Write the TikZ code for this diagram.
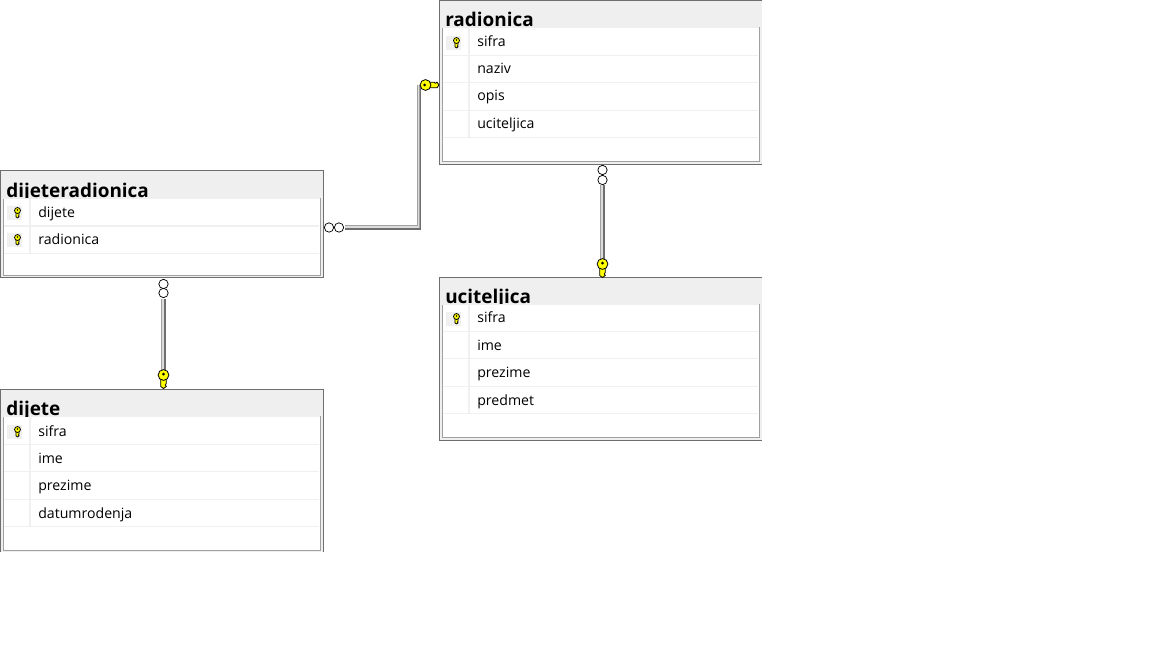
\documentclass[tikz,border=0pt]{standalone}
\usepackage{fontspec}
\setmainfont{Open Sans}
\definecolor{headgrey}{HTML}{EFEFEF}
\definecolor{outergrey}{HTML}{6E6E6E}
\definecolor{innergrey}{HTML}{A0A0A0}
\definecolor{rowgrey}{HTML}{F0F0F0}
\definecolor{relgrey}{HTML}{DCDCDC}
\definecolor{keyyellow}{HTML}{FFFF00}
\tikzset{
  headbox/.style={fill=headgrey, draw=none},
  outerline/.style={draw=outergrey, line width=0.8pt},
  innerline/.style={draw=innergrey, line width=0.8pt},
  rowline/.style={draw=rowgrey, line width=0.8pt},
  keybox/.style={fill=rowgrey, draw=none},
  titletext/.style={anchor=base west, inner sep=0pt, font=\fontsize{14.2}{16}\selectfont\bfseries},
  fieldtext/.style={anchor=base west, inner sep=0pt, font=\fontsize{10.6}{12}\selectfont},
  relline/.style={draw=innergrey, line width=0.8pt, double=relgrey, double distance=1.4pt},
  relshade/.style={draw=outergrey, line width=0.9pt},
  crowring/.style={circle, draw=black, fill=white, line width=0.55pt, inner sep=0pt, minimum size=7pt},
  keyhead/.pic={
    \draw[fill=keyyellow, draw=black, line width=0.6pt]
      (-2.8,4) -- (-2.8,11.5) -- (0,13.5) -- (2.8,11.5) -- (1.8,10) -- (2.8,8.5) -- (2.8,4) -- cycle;
    \draw[fill=keyyellow, draw=black, line width=0.6pt] (0,0) circle (5.4);
    \fill[black] (0,-0.8) circle (1.5);
  }
}
\begin{document}
\begin{tikzpicture}[
  % One unit is one pixel of the screen capture, y runs downward
  x=0.75pt,
  y=-0.75pt
]
\useasboundingbox (0,0) rectangle (1152,648);

% 1) Table dijeteradionica
\fill[headbox] (0,171) rectangle (323,278);
\fill[white] (4,199) rectangle (320,275);
\draw[innerline] (3.5,199) -- (3.5,275.5) -- (320.5,275.5) -- (320.5,198);
\draw[outerline] (0.5,170.5) rectangle (323.5,277.5);
\begin{scope}
  \clip (0,171) rectangle (323,198);
  \node[titletext] (titleDR) at (6,197.5) {dijeteradionica};
\end{scope}
\draw[rowline] (4,226) -- (319,226) (4,253.5) -- (319,253.5);
\draw[rowline] (30,199) -- (30,253);
\fill[keybox] (7,206) rectangle (22,220) (7,233) rectangle (22,247);
\pic[scale=0.55] at (17.5,210.5) {keyhead};
\pic[scale=0.55] at (17.5,237.5) {keyhead};
\node[fieldtext] (drDijete) at (38,217.5) {dijete};
\node[fieldtext] (drRadionica) at (38,244.5) {radionica};

% 2) Table dijete, cut off at the bottom of the capture
\fill[headbox] (0,390) rectangle (323,552);
\fill[white] (4,417) rectangle (320,550);
\draw[innerline] (3.5,417) -- (3.5,550.5) -- (320.5,550.5) -- (320.5,416);
\draw[outerline] (0.5,552) -- (0.5,389.5) -- (323.5,389.5) -- (323.5,552);
\begin{scope}
  \clip (0,390) rectangle (323,416);
  \node[titletext] (titleD) at (6,415.5) {dijete};
\end{scope}
\draw[rowline] (4,444.5) -- (319,444.5) (4,471.5) -- (319,471.5)
               (4,499.5) -- (319,499.5) (4,526.5) -- (319,526.5);
\draw[rowline] (30,417) -- (30,526);
\fill[keybox] (7,425) rectangle (22,439);
\pic[scale=0.55] at (17.5,429.5) {keyhead};
\node[fieldtext] (dSifra) at (38,436) {sifra};
\node[fieldtext] (dIme) at (38,463) {ime};
\node[fieldtext] (dPrezime) at (38,490) {prezime};
\node[fieldtext] (dDatum) at (38,518) {datumrodenja};

% 3) Table radionica, cut off at the right of the capture
\fill[headbox] (440,1) rectangle (762,164);
\fill[white] (443,28) rectangle (759,161);
\draw[innerline] (442.5,28) -- (442.5,161.5) -- (759.5,161.5) -- (759.5,27);
\draw[outerline] (762,0.5) -- (439.5,0.5) -- (439.5,164.5) -- (762,164.5);
\begin{scope}
  \clip (440,1) rectangle (762,27);
  \node[titletext] (titleR) at (445,26.5) {radionica};
\end{scope}
\draw[rowline] (443,55.5) -- (758,55.5) (443,82.5) -- (758,82.5)
               (443,110.5) -- (758,110.5) (443,137.5) -- (758,137.5);
\draw[rowline] (469,28) -- (469,137);
\fill[keybox] (446,36) rectangle (461,50);
\pic[scale=0.55] at (456.5,40.5) {keyhead};
\node[fieldtext] (rSifra) at (477,47) {sifra};
\node[fieldtext] (rNaziv) at (477,74) {naziv};
\node[fieldtext] (rOpis) at (477,101) {opis};
\node[fieldtext] (rUciteljica) at (477,129) {uciteljica};

% 4) Table uciteljica, cut off at the right of the capture
\fill[headbox] (440,278) rectangle (762,440);
\fill[white] (443,305) rectangle (759,437);
\draw[innerline] (442.5,305) -- (442.5,437.5) -- (759.5,437.5) -- (759.5,304);
\draw[outerline] (762,277.5) -- (439.5,277.5) -- (439.5,440.5) -- (762,440.5);
\begin{scope}
  \clip (440,278) rectangle (762,304);
  \node[titletext] (titleU) at (445,303.5) {uciteljica};
\end{scope}
\draw[rowline] (443,331.5) -- (758,331.5) (443,358.5) -- (758,358.5)
               (443,386.5) -- (758,386.5) (443,413.5) -- (758,413.5);
\draw[rowline] (469,305) -- (469,413);
\fill[keybox] (446,312) rectangle (461,326);
\pic[scale=0.55] at (456.5,316.5) {keyhead};
\node[fieldtext] (uSifra) at (477,323) {sifra};
\node[fieldtext] (uIme) at (477,350) {ime};
\node[fieldtext] (uPrezime) at (477,377) {prezime};
\node[fieldtext] (uPredmet) at (477,405) {predmet};

% 5) Connectors: dijeteradionica -- dijete
\node[crowring] (ringDa) at (163.5,284) {};
\node[crowring] (ringDb) at (163.5,293) {};
\coordinate (startD) at (163,299);
\coordinate (keyD) at (163,372);
\draw[relline] (startD) -- (keyD);
\draw[relshade] ([xshift=1.5pt]startD) -- ([xshift=1.5pt]keyD);
\pic at (163.5,375) {keyhead};

% 6) radionica -- uciteljica
\node[crowring] (ringUa) at (602.5,170) {};
\node[crowring] (ringUb) at (602.5,180) {};
\coordinate (startU) at (602,185);
\coordinate (keyU) at (602,260);
\draw[relline] (startU) -- (keyU);
\draw[relshade] ([xshift=1.5pt]startU) -- ([xshift=1.5pt]keyU);
\pic at (602.5,264) {keyhead};

% 7) dijeteradionica -- radionica
\node[crowring] (ringRa) at (329,227.5) {};
\node[crowring] (ringRb) at (339,227.5) {};
\coordinate (startR) at (345,227);
\coordinate (keyR) at (418.5,85);
\draw[relline] (startR) -| (keyR);
\draw[relshade] ([yshift=-1.5pt]startR) -| ([xshift=1.5pt]keyR);
\pic[rotate=90] at (425.5,85) {keyhead};

\end{tikzpicture}
\end{document}
